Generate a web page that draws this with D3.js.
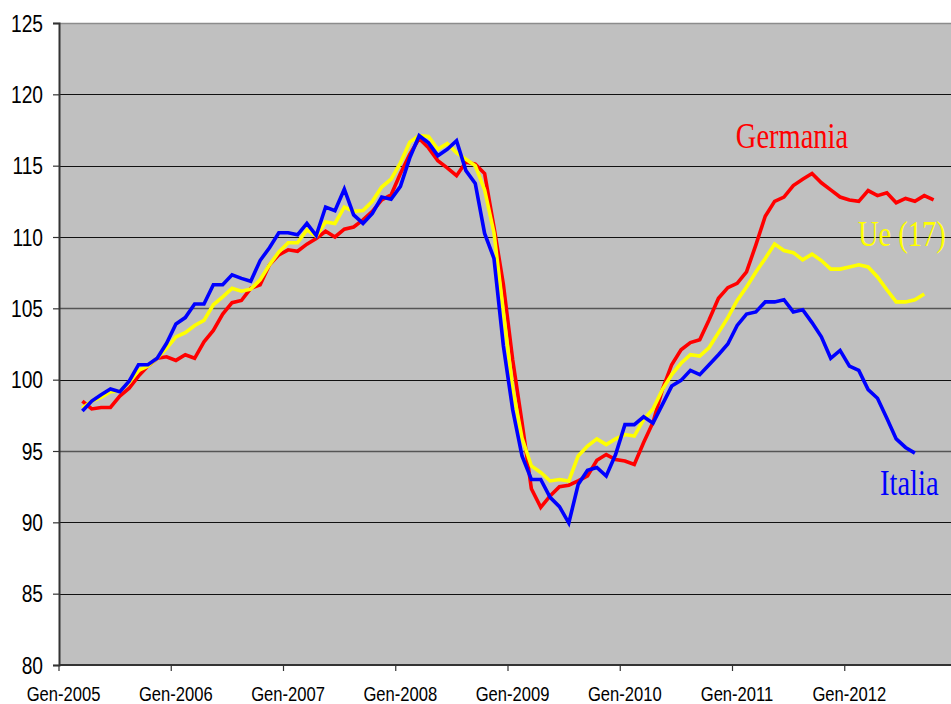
<!DOCTYPE html>
<html><head><meta charset="utf-8">
<script src="https://cdn.jsdelivr.net/npm/d3@7"></script>
<style>body{margin:0;background:#fff;} svg{display:block;}</style>
</head><body><svg id="c" width="951" height="704"></svg>
<script>
const monthNames = ["Gen","Feb","Mar","Apr","Mag","Giu","Lug","Ago","Set","Ott","Nov","Dic"];
const years = [2005,2006,2007,2008,2009,2010,2011,2012];
const categories = years.flatMap(y => monthNames.map(m => m + "-" + y));
const tickLabels = ["Gen-2005","Gen-2006","Gen-2007","Gen-2008","Gen-2009","Gen-2010","Gen-2011","Gen-2012"];
const yTicks = [80,85,90,95,100,105,110,115,120,125];

const germania = [null,null,
 98.5,97.95,98.05,98.05,98.85,99.4,100.25,100.95,101.5,101.6,
 101.35,101.75,101.5,102.65,103.45,104.6,105.4,105.55,106.4,106.65,108.05,108.75,
 109.1,109.0,109.5,109.9,110.4,110.0,110.55,110.7,111.2,111.8,112.6,112.95,
 114.45,115.8,116.9,116.25,115.35,114.85,114.3,115.25,115.1,114.45,110.7,106.7,
 101.4,97.0,92.35,91.05,91.85,92.5,92.6,92.9,93.25,94.35,94.75,94.4,
 94.3,94.05,95.6,97.0,99.3,101.05,102.1,102.6,102.8,104.2,105.7,106.45,
 106.75,107.55,109.45,111.45,112.5,112.8,113.6,114.05,114.45,113.8,113.3,112.8,
 112.6,112.5,113.25,112.9,113.1,112.4,112.7,112.5,112.9,112.6];

const ue17 = [null,null,
 98.0,98.5,98.75,99.15,99.2,99.8,100.65,100.95,101.5,102.2,
 103.0,103.3,103.8,104.15,105.25,105.8,106.4,106.2,106.35,107.0,108.05,108.95,
 109.6,109.6,110.5,110.05,111.05,110.95,112.1,111.8,111.85,112.5,113.5,114.05,
 115.2,116.65,117.1,117.05,116.15,116.55,115.9,115.45,115.0,113.3,110.3,104.8,
 99.4,95.9,93.95,93.5,92.9,93.0,92.9,94.65,95.35,95.85,95.45,95.85,
 96.15,96.05,97.2,97.95,99.3,100.35,101.15,101.75,101.65,102.25,103.3,104.35,
 105.55,106.5,107.55,108.5,109.5,109.05,108.9,108.4,108.8,108.35,107.75,107.75,
 107.9,108.05,107.9,107.2,106.3,105.45,105.45,105.6,106.0];

const italia = [null,null,
 97.8,98.5,98.95,99.35,99.15,99.9,101.05,101.05,101.5,102.55,
 103.9,104.35,105.3,105.3,106.65,106.65,107.35,107.1,106.9,108.35,109.25,110.3,
 110.3,110.15,110.95,110.1,112.1,111.85,113.35,111.55,110.95,111.65,112.8,112.65,
 113.55,115.55,117.1,116.6,115.7,116.15,116.75,114.65,113.75,110.25,108.5,102.4,
 97.9,94.65,93.0,93.0,91.75,91.1,89.95,92.65,93.65,93.85,93.25,94.75,
 96.85,96.85,97.4,96.95,98.25,99.55,99.95,100.65,100.35,101.05,101.75,102.5,
 103.8,104.6,104.75,105.45,105.45,105.6,104.75,104.9,104.0,103.0,101.5,102.05,
 100.95,100.65,99.3,98.7,97.3,95.85,95.25,94.85];

const seriesNames = ["Germania","Ue (17)","Italia"];
const seriesColors = ["#FF0000","#FFFF00","#0000FF"];
const seriesData = [germania, ue17, italia];

const svg = d3.select("#c");
const L = 59, T = 23, B = 665, R = 957;
const x = d3.scaleBand().domain(categories).range([L, R]).padding(0);
const y = d3.scaleLinear().domain([80,125]).range([B, T]);
const cx = c => x(c) + x.bandwidth()/2;
const SY = 1.25;

// plot area
svg.append("rect").attr("x", L).attr("y", T).attr("width", R - L).attr("height", B - T).attr("fill", "#C0C0C0");
svg.append("line").attr("x1", L).attr("x2", R).attr("y1", T + 0.5).attr("y2", T + 0.5).attr("stroke", "#8c8c8c").attr("stroke-width", 1.5);

// gridlines
svg.append("g").selectAll("line").data(yTicks.filter(v => v > 80 && v < 125)).join("line")
  .attr("x1", L).attr("x2", R)
  .attr("y1", d => Math.round(y(d)) + 0.5).attr("y2", d => Math.round(y(d)) + 0.5)
  .attr("stroke", d => (d === 105 || d === 95) ? "#555" : "#111")
  .attr("stroke-width", d => (d === 105 || d === 95) ? 1.6 : 1.1);

// y axis
const yAxis = d3.axisLeft(y).tickValues(yTicks).tickSize(6).tickFormat(d3.format("d"));
const gy = svg.append("g").attr("transform", `translate(${L},0)`).call(yAxis);
gy.select(".domain").attr("stroke", "#333").attr("stroke-width", 2);
gy.selectAll(".tick line").attr("stroke", "#333").attr("stroke-width", 1.2);
gy.selectAll(".tick text").remove();
svg.append("g").selectAll("text").data(yTicks).join("text")
  .attr("transform", d => `translate(43,${y(d) + 8.7}) scale(1,${SY})`)
  .attr("text-anchor", "end")
  .attr("font-family", "'Liberation Sans', Arial, sans-serif").attr("font-size", 19.2)
  .attr("fill", "#000").text(d => d);

// x axis
const janCats = categories.filter(c => c.startsWith("Gen-"));
const gx = svg.append("g").attr("transform", `translate(0,${B})`);
gx.append("line").attr("x1", L).attr("x2", R).attr("y1", 0).attr("y2", 0).attr("stroke", "#333").attr("stroke-width", 2.2);
gx.selectAll("line.tk").data(janCats).join("line").attr("class", "tk")
  .attr("x1", d => x(d)).attr("x2", d => x(d)).attr("y1", 0).attr("y2", 6)
  .attr("stroke", "#333").attr("stroke-width", 1.2);
svg.append("g").selectAll("text").data(tickLabels).join("text")
  .attr("transform", (d, i) => `translate(${x(janCats[i]) + 4.5},701) scale(1,${SY})`)
  .attr("text-anchor", "middle")
  .attr("font-family", "'Liberation Sans', Arial, sans-serif").attr("font-size", 16.6)
  .attr("fill", "#000").text(d => d);

// series lines
const line = d3.line().defined(d => d.v != null).x(d => cx(d.c)).y(d => y(d.v));
seriesData.forEach((arr, k) => {
  const pts = categories.map((c, i) => ({c, v: arr[i] === undefined ? null : arr[i]}));
  svg.append("path").datum(pts).attr("d", line)
    .attr("fill", "none").attr("stroke", seriesColors[k])
    .attr("stroke-width", 3.6).attr("stroke-linejoin", "miter").attr("stroke-linecap", "butt");
});

// labels
const labelPos = [
  {t: seriesNames[0], x: 792, y: 148, anchor: "middle"},
  {t: seriesNames[1], x: 858, y: 246, anchor: "start"},
  {t: seriesNames[2], x: 880, y: 495, anchor: "start"}
];
svg.append("g").selectAll("text").data(labelPos).join("text")
  .attr("transform", d => `translate(${d.x},${d.y}) scale(1,${SY})`)
  .attr("text-anchor", d => d.anchor)
  .attr("font-family", "'Liberation Serif', 'Times New Roman', serif").attr("font-size", 28.5)
  .attr("fill", (d, i) => seriesColors[i]).text(d => d.t);
</script></body></html>
